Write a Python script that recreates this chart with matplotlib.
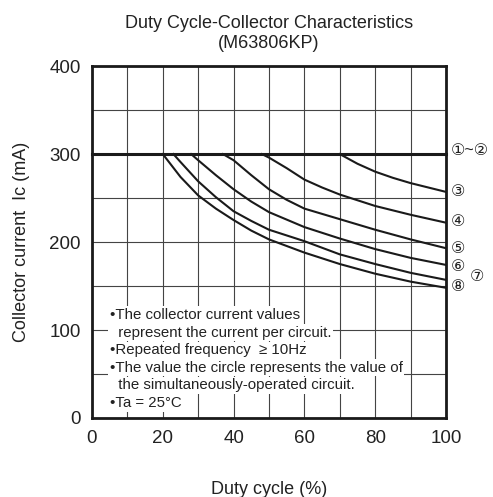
import numpy as np
import matplotlib
matplotlib.use("Agg")
import matplotlib.pyplot as plt

plt.rcParams['font.family'] = ['Liberation Sans', 'DejaVu Sans']

# -------------------------------------------------------------------
# data (duty cycle %, collector current mA)
flat_x = [0, 100]
flat_y = [300, 300]

c3_x = [70, 75, 80, 85, 90, 95, 100]
c3_y = [300, 289, 280, 273, 267, 262, 257]

c4_x = [48, 50, 55, 60, 65, 70, 80, 90, 100]
c4_y = [300, 296, 284, 271, 262, 254, 241, 231, 222]

c5_x = [37, 40, 45, 50, 55, 60, 70, 80, 90, 100]
c5_y = [300, 293, 276, 260, 248, 238, 226, 214, 203, 193]

c6_x = [28, 30, 35, 40, 45, 50, 60, 70, 80, 90, 100]
c6_y = [300, 293, 276, 260, 246, 234, 217, 204, 192, 182, 174]

c7_x = [23, 25, 30, 35, 40, 45, 50, 60, 70, 80, 90, 100]
c7_y = [300, 291, 269, 251, 235, 224, 214, 201, 186, 175, 165, 157]

c8_x = [20, 25, 30, 35, 40, 45, 50, 60, 70, 80, 90, 100]
c8_y = [300, 274, 253, 238, 225, 213, 203, 188, 175, 164, 155, 148]

curves = [(c3_x, c3_y), (c4_x, c4_y), (c5_x, c5_y),
          (c6_x, c6_y), (c7_x, c7_y), (c8_x, c8_y)]

# right-hand labels and the y they sit at
end_labels = ["①~②", "③", "④", "⑤", "⑥", "⑦", "⑧"]
end_label_y = [304, 257, 223, 193, 172, 161, 149]

notes = ["•The collector current values",
         "  represent the current per circuit.",
         "•Repeated frequency  ≥ 10Hz",
         "•The value the circle represents the value of",
         "  the simultaneously-operated circuit.",
         "•Ta = 25°C"]

# -------------------------------------------------------------------
fig = plt.figure(figsize=(4.93, 4.97), dpi=100)
ax = fig.add_axes([0.1866, 0.159, 0.718, 0.708])

txt = "#222222"

ax.set_xlim(0, 100)
ax.set_ylim(0, 400)
ax.set_xticks(np.arange(0, 101, 20))
ax.set_yticks(np.arange(0, 401, 100))
ax.set_xticks(np.arange(0, 101, 10), minor=True)
ax.set_yticks(np.arange(0, 401, 50), minor=True)
ax.grid(which='both', color="#444444", linewidth=0.8, zorder=0)
ax.set_axisbelow(True)
ax.tick_params(which='both', length=0, labelsize=13.5, colors=txt)
ax.tick_params(axis='x', pad=9)
ax.tick_params(axis='y', pad=8)

for s in ax.spines.values():
    s.set_linewidth(2)
    s.set_color("#1a1a1a")

ax.plot(flat_x, flat_y, color="#1a1a1a", lw=2.2, zorder=3, clip_on=False)
for cx, cy in curves:
    ax.plot(cx, cy, color="#1a1a1a", lw=1.5, zorder=3,
            solid_joinstyle='round')

for lab, yv in zip(end_labels, end_label_y):
    xv = 106.8 if lab == "⑦" else 101.4
    ax.text(xv, yv, lab, ha='left', va='center', fontsize=11.5,
            color=txt, clip_on=False)

for i, line in enumerate(notes):
    ax.text(5.0, 117 - i * 20, line, ha='left', va='center', fontsize=10.8,
            color=txt, zorder=4,
            bbox=dict(facecolor='white', edgecolor='none', pad=1.2))

ax.set_xlabel("Duty cycle (%)", fontsize=13, color=txt, labelpad=24)
ax.set_ylabel("Collector current  Ic (mA)", fontsize=13, color=txt,
              labelpad=14)
ax.set_title("Duty Cycle-Collector Characteristics\n(M63806KP)",
             fontsize=13, color=txt, pad=13, linespacing=1.25)

fig.savefig("out.png", dpi=100)
